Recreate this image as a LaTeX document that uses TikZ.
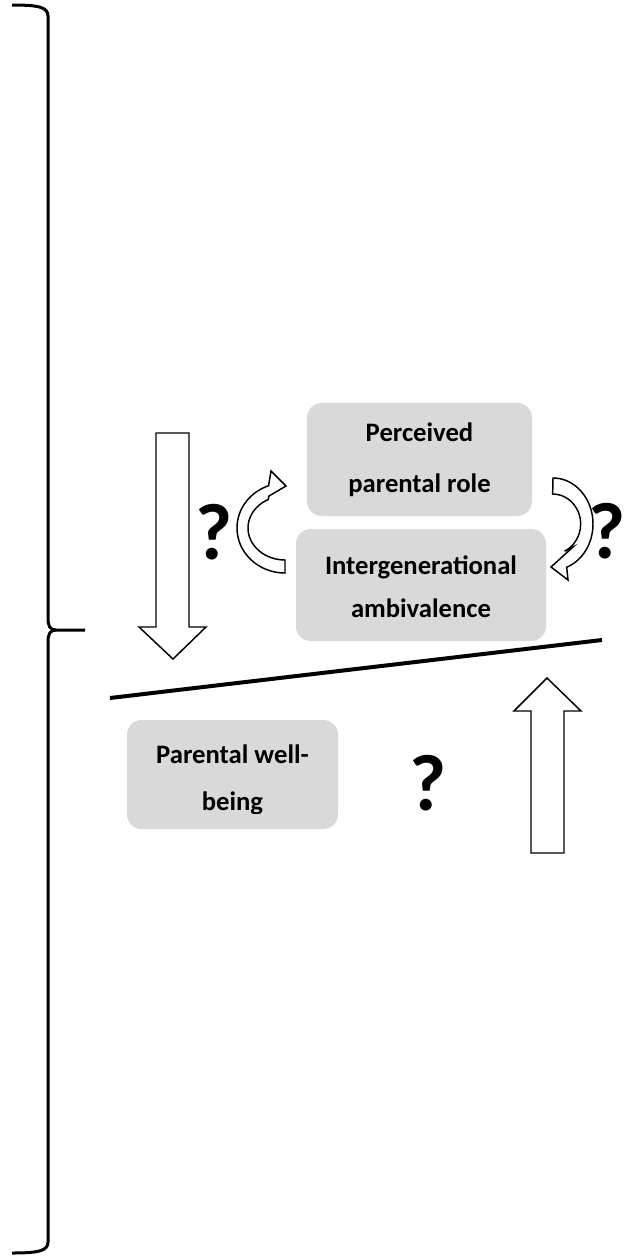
\documentclass[tikz,border=0pt]{standalone}
\usepackage{fontspec}
\setmainfont{Carlito}
\definecolor{boxgray}{RGB}{217,217,217}
\tikzset{every picture/.style={line width=0.75pt}}
\tikzset{
  factor/.style={fill=boxgray, rounded corners=11, inner sep=0, align=center, font=\fontsize{20}{36}\selectfont\bfseries},
  qmark/.style={inner sep=0.75pt, font=\fontsize{60}{60}\selectfont\bfseries},
  blockarrow/.style={draw=black, fill=white, line width=1.1, line join=miter},
}

\begin{document}
\begin{tikzpicture}[x=0.75pt,y=0.75pt,yscale=-1,xscale=1]
        \useasboundingbox (0,0) rectangle (643,1257);

        %Right Brace
        \draw [line width=2.25]   (12,5) .. controls (38,5) and (48,7) .. (48,16) -- (48,618) .. controls (48,626) and (50,630) .. (56,630) -- (85,630) ;
        \draw [line width=2.25]   (56,630) .. controls (50,630) and (48,634) .. (48,642) -- (48,1242) .. controls (48,1251) and (38,1253) .. (12,1253) ;

        %Down Arrow
        \draw [blockarrow]   (156,433) -- (189,433) -- (189,627) -- (206,627) -- (173,659) -- (139,627) -- (156,627) -- cycle ;
        %Up Arrow
        \draw [blockarrow]   (531,853) -- (564,853) -- (564,711) -- (581,711) -- (547,678) -- (514,711) -- (531,711) -- cycle ;

        %Curved Arrow (left)
        \draw [blockarrow]   (285,573) arc [start angle=90, end angle=250, x radius=48, y radius=45] -- (271,471) -- (286,486) -- (269,496) -- (268.2,499.5) arc [start angle=243, end angle=90, x radius=37, y radius=32] -- cycle ;
        %Curved Arrow (right)
        \draw [blockarrow]   (553,478) arc [start angle=-90, end angle=70, x radius=40, y radius=46] -- (568,580) -- (551,567) -- (573,547) -- (564.5,551.2) arc [start angle=65, end angle=-90, x radius=28, y radius=30] -- cycle ;

        %Straight Line
        \draw [line width=3]   (110,698) -- (602,640) ;

        %Factors
        \node (role) [factor, minimum width=168.75, minimum height=84.75, font=\fontsize{20}{38}\selectfont\bfseries] at (419.5,459.5) {Perceived\\parental role};
        \node (ambiv) [factor, minimum width=187.5, minimum height=84, font=\fontsize{20}{32}\selectfont\bfseries] at (421,585) {};
        \node (ambivtxt) [inner sep=0, align=center, font=\fontsize{20}{32}\selectfont\bfseries, anchor=base] at (ambiv.center) [yshift=-24] {Intergenerational\\ambivalence};
        \node (wellbeing) [factor, minimum width=158.25, minimum height=81.75] at (232.5,774.5) {};
        \begin{scope}
        \clip (127,700) rectangle (338,813);
        \node (wellbeingtxt) [inner sep=0, align=center, font=\fontsize{20}{35}\selectfont\bfseries, anchor=base] at (232.5,810) {Parental well-\\being};
        \end{scope}

        %Question marks
        \node (qleft) [qmark] at (214,532) {?};
        \node (qright) [qmark] at (607,531) {?};
        \node (qmid) [qmark] at (428,783) {?};

\end{tikzpicture}
\end{document}
